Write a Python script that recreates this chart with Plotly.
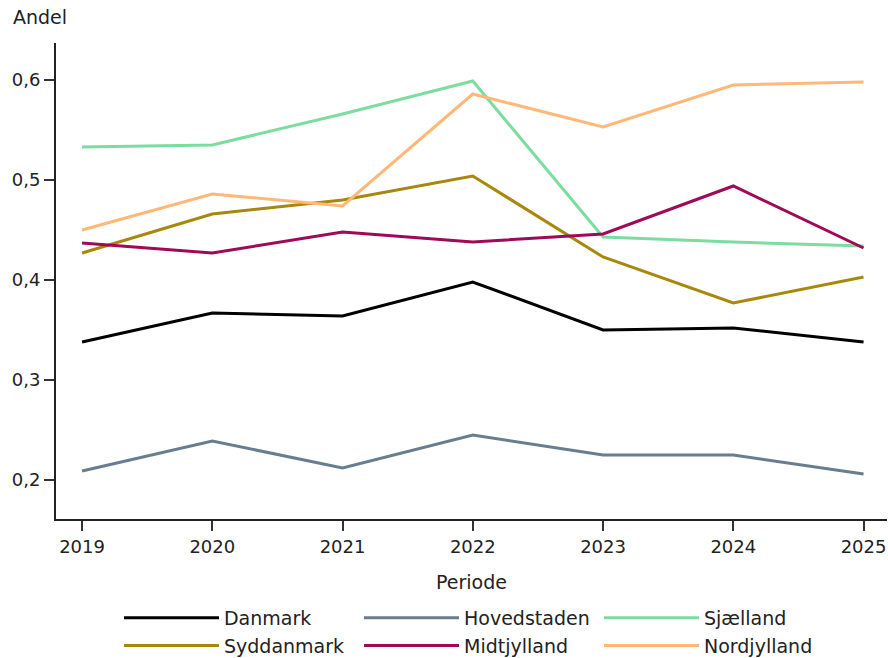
import plotly.graph_objects as go

years = [2019, 2020, 2021, 2022, 2023, 2024, 2025]
danmark = [0.338, 0.367, 0.364, 0.398, 0.350, 0.352, 0.338]
hovedstaden = [0.209, 0.239, 0.212, 0.245, 0.225, 0.225, 0.206]
sjaelland = [0.533, 0.535, 0.566, 0.599, 0.443, 0.438, 0.434]
syddanmark = [0.427, 0.466, 0.480, 0.504, 0.423, 0.377, 0.403]
midtjylland = [0.437, 0.427, 0.448, 0.438, 0.446, 0.494, 0.432]
nordjylland = [0.450, 0.486, 0.474, 0.586, 0.553, 0.595, 0.598]

series = [
    ("Danmark", danmark, "#000000"),
    ("Hovedstaden", hovedstaden, "#687d8f"),
    ("Sjælland", sjaelland, "#7ddc9f"),
    ("Syddanmark", syddanmark, "#a8880c"),
    ("Midtjylland", midtjylland, "#9e0a58"),
    ("Nordjylland", nordjylland, "#ffb877"),
]

fig = go.Figure()
for name, vals, col in series:
    fig.add_trace(go.Scatter(x=years, y=vals, name=name, mode="lines",
                             line=dict(color=col, width=3)))

font = "DejaVu Sans"
txt = "#222222"
fig.update_layout(
    width=888, height=658,
    margin=dict(l=56, r=1, t=43, b=139, autoexpand=False),
    paper_bgcolor="white", plot_bgcolor="white",
    separators=",.",
    font=dict(family=font, size=19, color=txt),
    showlegend=True,
    legend=dict(orientation="h", xref="container", yref="container",
                x=0.134, xanchor="left", y=1 - 599 / 658, yanchor="top",
                itemwidth=95, entrywidth=130, tracegroupgap=0,
                font=dict(family=font, size=19, color=txt)),
    xaxis=dict(range=[2018.8, 2025.18], tickvals=years, ticktext=[str(y) for y in years],
               showgrid=False, zeroline=False, showline=True, linecolor="#222222", linewidth=2,
               ticks="outside", ticklen=10, tickwidth=2, tickcolor="#333333",
               tickfont=dict(family=font, size=18, color=txt),
               title=dict(text="Periode", standoff=20, font=dict(family=font, size=19, color=txt))),
    yaxis=dict(range=[0.161, 0.637], tickvals=[0.2, 0.3, 0.4, 0.5, 0.6],
               tickformat=".1f", showgrid=False, zeroline=False, showline=True,
               linecolor="#222222", linewidth=2, ticks="outside", ticklen=10, tickwidth=2,
               tickcolor="#333333", tickfont=dict(family=font, size=18, color=txt)),
    annotations=[dict(text="Andel", xref="paper", yref="paper", x=-0.054, y=1.0546,
                      xanchor="left", yanchor="middle", showarrow=False,
                      font=dict(family=font, size=19, color=txt))],
)

fig.write_html("out.html", config={"displayModeBar": False},
               post_script="document.body.style.margin='0';document.body.style.overflow='hidden';")
